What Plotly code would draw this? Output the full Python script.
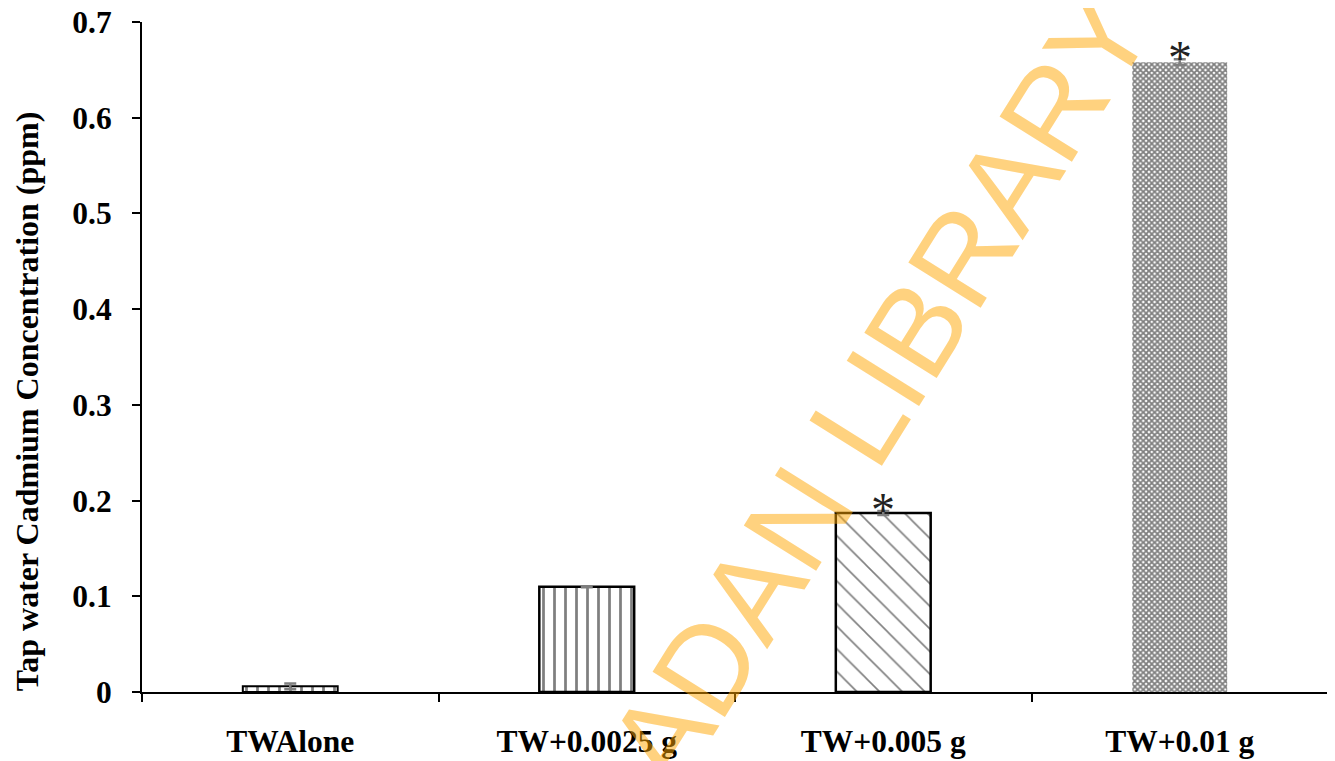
import plotly.graph_objects as go

categories = ["TWAlone", "TW+0.0025 g", "TW+0.005 g", "TW+0.01 g"]
values = [0.006, 0.11, 0.187, 0.658]
errors = [0.003, 0.0005, 0.002, 0.003]
significance = ["", "", "*", "*"]
y_ticks = [0, 0.1, 0.2, 0.3, 0.4, 0.5, 0.6, 0.7]
y_tick_labels = ["0", "0.1", "0.2", "0.3", "0.4", "0.5", "0.6", "0.7"]
y_title = "Tap water Cadmium Concentration (ppm)"

pattern_shapes = ["|", "|", "\\", "x"]
pattern_sizes = [11, 11, 16, 4]
pattern_solidity = [0.25, 0.25, 0.1, 0.7]
line_widths = [2, 2.5, 2.5, 0]

SERIF = "Liberation Serif, Times New Roman, serif"

fig = go.Figure()
fig.add_trace(go.Bar(
    x=categories,
    y=values,
    width=0.32,
    marker=dict(
        color="white",
        line=dict(color="black", width=line_widths),
        pattern=dict(shape=pattern_shapes, size=pattern_sizes,
                     solidity=pattern_solidity, fgcolor="black",
                     bgcolor="white", fillmode="overlay"),
    ),
    error_y=dict(type="data", array=errors, visible=True,
                 color="#7f7f7f", thickness=2.5, width=6),
    showlegend=False,
))

for c, v, e, s in zip(categories, values, errors, significance):
    if s:
        fig.add_annotation(x=c, y=v + e, text=s, showarrow=False,
                           xanchor="center", yanchor="middle", yshift=2,
                           font=dict(family=SERIF, size=48, color="#222"))

# y-axis title (placed off-centre, as in the original)
fig.add_annotation(
    xref="paper", yref="paper", x=-0.097, y=0.434,
    text=y_title, showarrow=False, textangle=-90,
    xanchor="center", yanchor="middle",
    font=dict(family=SERIF, size=32, color="black", weight="bold"),
)

fig.add_annotation(
    xref="paper", yref="paper", x=0.622, y=0.4537,
    text="ADAN LIBRARY", showarrow=False, textangle=-58,
    xanchor="center", yanchor="middle",
    font=dict(family="Liberation Sans, Arial, sans-serif", size=124,
              color="rgba(255,165,0,0.5)"),
)

# page body has an 8px margin, so the figure is sized to fit the window
fig.update_layout(
    width=1327, height=753,
    margin=dict(l=134, r=7, t=14, b=69),
    plot_bgcolor="white", paper_bgcolor="white",
    font=dict(family=SERIF, size=31, color="black"),
    bargap=0.68,
)
fig.update_xaxes(
    type="category", automargin=False,
    showline=True, linecolor="black", linewidth=2,
    ticks="outside", tickson="boundaries", ticklen=8, tickwidth=2,
    tickcolor="black", showgrid=False,
    tickfont=dict(family=SERIF, size=31.5, color="black", weight="bold"),
    ticklabelstandoff=20, ticklabeloverflow="allow",
)
fig.update_yaxes(
    range=[0, 0.7], tickmode="array", tickvals=y_ticks, ticktext=y_tick_labels,
    automargin=False,
    showline=True, linecolor="black", linewidth=2,
    ticks="outside", ticklen=8, tickwidth=2, tickcolor="black",
    showgrid=False, zeroline=False,
    tickfont=dict(family=SERIF, size=31.5, color="black", weight="bold"),
    ticklabelstandoff=14, ticklabeloverflow="allow",
)

fig.write_html("out.html")
